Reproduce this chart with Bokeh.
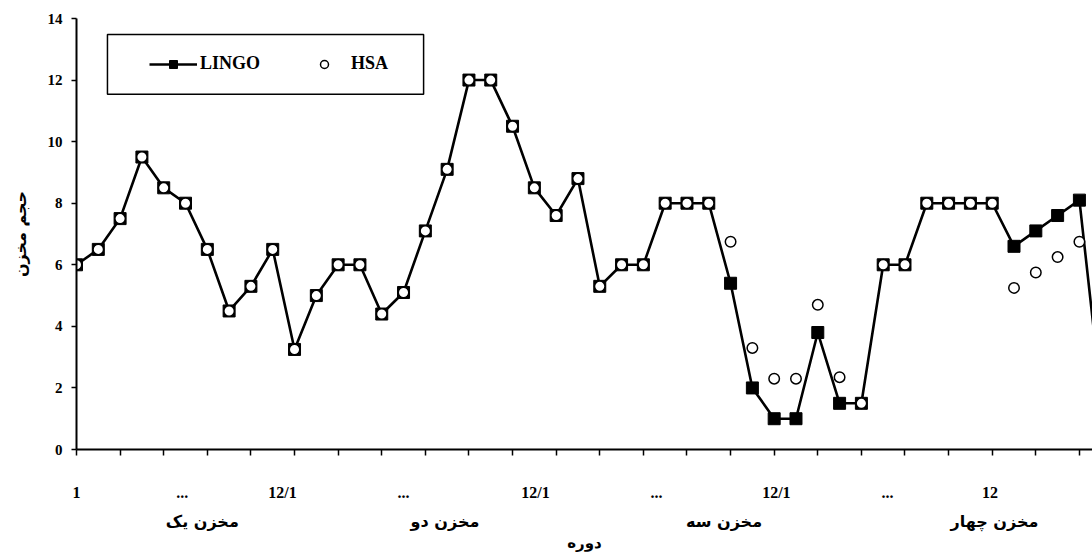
from bokeh.plotting import figure
from bokeh.models import (FixedTicker, Range1d, Legend, LegendItem, LinearAxis,
                          BoxAnnotation)
from bokeh.embed import file_html
from bokeh.resources import INLINE

# ---- data -------------------------------------------------------------
periods = list(range(1, 49))
lingo = [6.0, 6.5, 7.5, 9.5, 8.5, 8.0, 6.5, 4.5, 5.3, 6.5, 3.25, 5.0,
         6.0, 6.0, 4.4, 5.1, 7.1, 9.1, 12.0, 12.0, 10.5, 8.5, 7.6, 8.8,
         5.3, 6.0, 6.0, 8.0, 8.0, 8.0, 5.4, 2.0, 1.0, 1.0, 3.8, 1.5,
         1.5, 6.0, 6.0, 8.0, 8.0, 8.0, 8.0, 6.6, 7.1, 7.6, 8.1, 1.7]
hsa = [6.0, 6.5, 7.5, 9.5, 8.5, 8.0, 6.5, 4.5, 5.3, 6.5, 3.25, 5.0,
       6.0, 6.0, 4.4, 5.1, 7.1, 9.1, 12.0, 12.0, 10.5, 8.5, 7.6, 8.8,
       5.3, 6.0, 6.0, 8.0, 8.0, 8.0, 6.75, 3.3, 2.3, 2.3, 4.7, 2.35,
       1.5, 6.0, 6.0, 8.0, 8.0, 8.0, 8.0, 5.25, 5.75, 6.25, 6.75, 1.7]
y_ticks = [0, 2, 4, 6, 8, 10, 12, 14]
x_tick_marks = list(range(1, 48, 2))
period_labels = ["1", "...", "12/1", "...", "12/1", "...", "12/1", "...", "12"]
period_label_x = [1.0, 5.85, 10.45, 16.0, 22.05, 27.6, 33.1, 38.2, 42.9]
warehouse_names = ["مخزن یک", "مخزن دو", "مخزن سه", "مخزن چهار"]
warehouse_x = [6.77, 17.9, 30.7, 43.1]

SERIF = "Liberation Serif"
PERSIAN = "DejaVu Sans"

p = figure(width=1092, height=555, output_backend="svg", toolbar_location=None,
           x_range=Range1d(1, 47.6), y_range=Range1d(0, 14),
           min_border_left=76, min_border_right=0, min_border_top=18,
           min_border_bottom=106)
p.outline_line_color = None
p.xgrid.visible = False
p.ygrid.visible = False
p.background_fill_color = "white"

# ---- x axis: period labels + tick marks every two periods --------------
xa = p.xaxis[0]
xa.ticker = FixedTicker(ticks=period_label_x, minor_ticks=x_tick_marks)
xa.major_label_overrides = {v: t for v, t in zip(period_label_x, period_labels)}
xa.major_tick_out = 0
xa.major_tick_in = 0
xa.minor_tick_out = 6
xa.minor_tick_in = 0
xa.minor_tick_line_width = 1.5
xa.minor_tick_line_color = "black"
xa.axis_line_width = 2
xa.axis_line_color = "black"
xa.major_label_text_font = SERIF
xa.major_label_text_font_style = "bold"
xa.major_label_text_font_size = "16px"
xa.major_label_text_color = "black"
xa.major_label_standoff = 28

# second row: warehouse names and the axis title
xa2 = LinearAxis(ticker=FixedTicker(ticks=warehouse_x),
                 major_label_overrides={v: t for v, t in zip(warehouse_x, warehouse_names)},
                 axis_line_color=None, major_tick_line_color=None,
                 minor_tick_line_color=None, major_tick_out=0, major_tick_in=0,
                 minor_tick_out=0, minor_tick_in=0,
                 major_label_text_font=PERSIAN, major_label_text_font_style="bold",
                 major_label_text_font_size="16px", major_label_text_color="black",
                 major_label_standoff=8,
                 axis_label="دوره", axis_label_text_font=PERSIAN,
                 axis_label_text_font_style="bold", axis_label_text_font_size="15px",
                 axis_label_text_color="black", axis_label_standoff=0)
p.add_layout(xa2, "below")

# ---- y axis ---------------------------------------------------------------
ya = p.yaxis[0]
ya.ticker = FixedTicker(ticks=y_ticks)
ya.major_label_text_font = SERIF
ya.major_label_text_font_style = "bold"
ya.major_label_text_font_size = "15px"
ya.major_label_text_color = "black"
ya.major_tick_out = 5
ya.major_tick_in = 0
ya.minor_tick_out = 0
ya.minor_tick_in = 0
ya.major_label_standoff = 9
ya.axis_line_width = 2
ya.axis_line_color = "black"
ya.major_tick_line_width = 1.5
ya.major_tick_line_color = "black"
ya.axis_label = "حجم مخزن"
ya.axis_label_text_font = PERSIAN
ya.axis_label_text_font_style = "bold"
ya.axis_label_text_font_size = "16px"
ya.axis_label_text_color = "black"
ya.axis_label_standoff = 15

# ---- series -------------------------------------------------------------
line_r = p.line(periods, lingo, line_color="black", line_width=2.6)
sq_r = p.scatter(periods, lingo, marker="square", size=12,
                 fill_color="black", line_color="black", line_width=1)
circ_r = p.scatter(periods, hsa, marker="circle", size=10.5,
                   fill_color="white", line_color="black", line_width=1.5)

# ---- legend -------------------------------------------------------------
p.add_layout(BoxAnnotation(left=2.42, right=16.92, bottom=11.54, top=13.48,
                           fill_color="white", fill_alpha=1,
                           line_color="black", line_width=1.5, line_alpha=1))
legend = Legend(items=[LegendItem(label="LINGO", renderers=[line_r, sq_r]),
                       LegendItem(label="HSA", renderers=[circ_r])],
                orientation="horizontal", location=(73, 375),
                border_line_color=None, background_fill_alpha=0,
                padding=0, margin=0, spacing=40,
                glyph_width=48, glyph_height=20, label_standoff=3,
                label_text_font=SERIF, label_text_font_style="bold",
                label_text_font_size="18px", label_text_color="black")
p.add_layout(legend)

open("out.html", "w").write(file_html(p, INLINE))
